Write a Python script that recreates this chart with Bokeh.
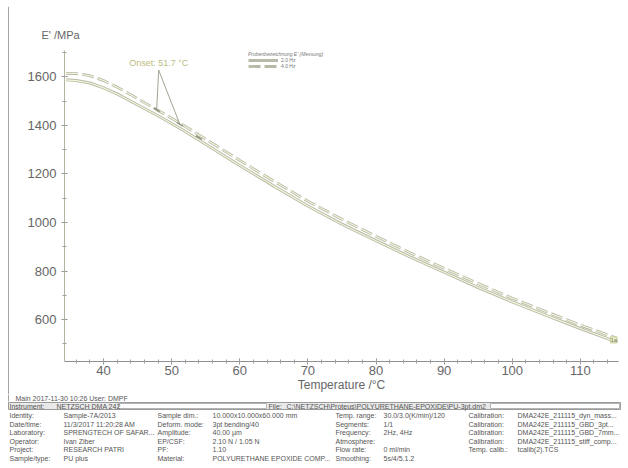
from bokeh.plotting import figure
from bokeh.layouts import column, row
from bokeh.models import Range1d, SingleIntervalTicker, Label, Legend, LegendItem, ColumnDataSource
from bokeh.core.properties import value
from bokeh.embed import file_html
from bokeh.resources import INLINE

# ---- data ----
temp = [34.5, 36, 38, 40, 42, 44, 46, 48, 50, 52, 54, 56, 58, 60, 65, 70, 75,
        80, 85, 90, 95, 100, 105, 110, 115.3]
e_solid = [1588, 1585, 1575, 1555, 1530, 1500, 1470, 1440, 1408, 1375, 1340, 1305,
           1270, 1235, 1150, 1068, 993, 925, 858, 795, 732, 673, 617, 563, 508]
e_dashed = [1615, 1614, 1605, 1585, 1558, 1527, 1494, 1462, 1430, 1396, 1361, 1326,
            1291, 1256, 1170, 1088, 1013, 943, 875, 811, 748, 688, 632, 577, 524]

onset_text = "Onset: 51.7 °C"
onset_label_T, onset_label_E = 48.1, 1656
onset_T = [47.8, 51.2]
onset_E = [1465, 1405]
tick_T = [47.8, 51.2, 54.0]
tick_E = [1465, 1405, 1350]

y_title = "E' /MPa"
x_title = "Temperature /°C"
legend_title = "Probenbezeichnung E' (Messung)"
legend_labels = ["2.0 Hz", "4.0 Hz"]
curve_tag = "1a"

footer = "Main   2017-11-30 10:26     User: DMPF"
header_left = ["Instrument:", "NETZSCH DMA 242"]
header_file = ["File:", "C:\\NETZSCH\\Proteus\\POLYURETHANE-EPOXIDE\\PU-3pt.dm2"]
col1 = ["Identity:", "Date/time:", "Laboratory:", "Operator:", "Project:", "Sample/type:"]
col2 = ["Sample-7A/2013", "11/3/2017 11:20:28 AM", "SPRENGTECH OF SAFAR...", "Ivan Ziber",
        "RESEARCH PATRI", "PU plus"]
col3 = ["Sample dim.:", "Deform. mode:", "Amplitude:", "EP/CSF:", "PF:", "Material:"]
col4 = ["10.000x10.000x60.000 mm", "3pt bending/40", "40.00 µm", "2.10 N / 1.05 N",
        "1.10", "POLYURETHANE EPOXIDE COMP..."]
col5 = ["Temp. range:", "Segments:", "Frequency:", "Atmosphere:", "Flow rate:", "Smoothing:"]
col6 = ["30.0/3.0(K/min)/120", "1/1", "2Hz, 4Hz", "", "0 ml/min", "5s/4/5.1.2"]
col7 = ["Calibration:", "Calibration:", "Calibration:", "Calibration:", "Temp. calib.:", ""]
col8 = ["DMA242E_211115_dyn_mass...", "DMA242E_211115_GBD_3pt...",
        "DMA242E_211115_GBD_7mm...", "DMA242E_211115_stiff_comp...",
        "tcalib(2).TCS", ""]

FONT = "Liberation Sans"
GRAY = "#666666"
FRAME_GRAY = "#a4a4a4"
W = 628
H_STRIP = 6      # top strip holding the report's top border
W_STRIP = 9      # left strip holding the report's left border
H_TOP = 394      # bottom of the chart area
H_BOT = 468 - H_TOP


def blank(width, height, xr, yr):
    f = figure(width=width, height=height, output_backend="svg", toolbar_location=None,
               x_range=xr, y_range=yr, x_axis_type=None, y_axis_type=None,
               min_border_left=0, min_border_right=0, min_border_top=0, min_border_bottom=0)
    f.frame_align = False
    f.grid.visible = False
    f.outline_line_color = None
    f.border_fill_color = "white"
    f.background_fill_color = "white"
    return f


# ---------------- report border strips ----------------
top = blank(W, H_STRIP, Range1d(0, W), Range1d(H_STRIP, 0))
top.segment(x0=[8, 8], y0=[5, 5], x1=[626, 8], y1=[5, H_STRIP], line_color=FRAME_GRAY,
            line_width=1)
left = blank(W_STRIP, H_TOP - H_STRIP, Range1d(0, W_STRIP), Range1d(H_TOP, H_STRIP))
left.segment(x0=[8], y0=[H_STRIP], x1=[8], y1=[H_TOP], line_color=FRAME_GRAY, line_width=1)

# ---------------- main chart ----------------
p = figure(width=W - W_STRIP, height=H_TOP - H_STRIP, output_backend="svg",
           toolbar_location=None,
           x_range=Range1d(34.27, 115.6), y_range=Range1d(427, 1709),
           min_border_left=64 - W_STRIP, min_border_right=10, min_border_top=50 - H_STRIP,
           min_border_bottom=33)
p.frame_align = False
p.grid.visible = False
p.outline_line_color = None
p.background_fill_color = "white"
p.border_fill_color = "white"

p.title.text = y_title
p.title.align = "left"
p.title.offset = -23
p.title.standoff = 20
p.title.text_font = FONT
p.title.text_font_size = "11px"
p.title.text_font_style = "normal"
p.title.text_color = GRAY

p.xaxis.ticker = SingleIntervalTicker(interval=10, num_minor_ticks=5)
p.yaxis.ticker = SingleIntervalTicker(interval=200, num_minor_ticks=2)
for ax in (p.xaxis, p.yaxis):
    ax.major_label_text_font = FONT
    ax.major_label_text_font_size = "13px"
    ax.major_label_text_color = GRAY
    ax.major_tick_in = 3
    ax.major_tick_out = 3
    ax.minor_tick_in = 2
    ax.minor_tick_out = 2
    ax.major_tick_line_color = "#8a8a8a"
    ax.minor_tick_line_color = "#a0a0a0"
p.xaxis.axis_line_color = "#909090"
p.yaxis.axis_line_color = "#b4b49c"
p.xaxis.major_label_standoff = 1
p.yaxis.major_label_standoff = 5
p.xaxis.axis_label = x_title
p.xaxis.axis_label_text_font = FONT
p.xaxis.axis_label_text_font_size = "12px"
p.xaxis.axis_label_text_font_style = "normal"
p.xaxis.axis_label_text_color = GRAY
p.xaxis.axis_label_standoff = 0

src = ColumnDataSource(dict(t=temp, s=e_solid, d=e_dashed))
r_s = p.line("t", "s", source=src, line_color="#b8b9a8", line_width=3)
p.line("t", "s", source=src, line_color="#f4f6da", line_width=1.2)
r_d = p.line("t", "d", source=src, line_color="#b8b9a8", line_width=2.8, line_dash="12 4")
p.line("t", "d", source=src, line_color="#f4f6da", line_width=1.1, line_dash="12 4")

# onset annotation
p.segment(x0=[onset_label_T] * len(onset_T), y0=[onset_label_E - 28] * len(onset_T),
          x1=onset_T, y1=onset_E, line_color="#a4a494", line_width=1)
p.scatter(tick_T, tick_E, marker="dash", size=7, angle=-0.55, line_color="#8f907c",
          line_width=1.5)
p.add_layout(Label(x=onset_label_T, y=onset_label_E, text=onset_text, text_align="center",
                   text_baseline="middle", text_font=FONT, text_font_size="9px",
                   text_color="#bcbc7e"))
p.add_layout(Label(x=temp[-1], y=(e_solid[-1] + e_dashed[-1]) / 2, text=curve_tag,
                   x_offset=-6, text_align="left", text_baseline="middle", text_font=FONT,
                   text_font_size="6px", text_color="#777", background_fill_color="#eef2c4",
                   border_line_color="#c8cc98"))

legend = Legend(items=[LegendItem(label=legend_labels[0], renderers=[r_s]),
                       LegendItem(label=legend_labels[1], renderers=[r_d])],
                location=(184, 292), title=legend_title)
legend.title_text_font = FONT
legend.title_text_font_size = "5px"
legend.title_text_color = "#777"
legend.title_standoff = 0
legend.label_text_font = FONT
legend.label_text_font_size = "5px"
legend.label_text_color = "#777"
legend.label_height = 4
legend.label_width = 20
legend.glyph_height = 4
legend.glyph_width = 30
legend.label_standoff = 3
legend.spacing = 0
legend.padding = 0
legend.margin = 0
legend.border_line_alpha = 0
legend.background_fill_alpha = 0
p.add_layout(legend)

# ---------------- report table (pixel coordinates of the report) ----------------
t = blank(W, H_BOT, Range1d(0, W), Range1d(468, H_TOP))
t.segment(x0=[8], y0=[H_TOP], x1=[8], y1=[401], line_color=FRAME_GRAY, line_width=1)
t.quad(left=[8], right=[620], top=[402], bottom=[409], fill_color="#e9e9e9",
       line_color="#9a9a9a", line_width=1)
t.quad(left=[118, 490], right=[266, 619], top=[403, 403], bottom=[408, 408],
       fill_color="white", line_color="#b4b4b4", line_width=1)

rows_y = [415, 423.5, 432, 440.5, 449, 457.5]
xs, ys, ss = [15], [397.5], [footer]
for xpos, s in ((9, header_left[0]), (56, header_left[1]), (268, header_file[0]),
                (286, header_file[1])):
    xs.append(xpos); ys.append(405.5); ss.append(s)
for col, xpos in ((col1, 9), (col2, 63), (col3, 157), (col4, 212), (col5, 335),
                  (col6, 383), (col7, 468), (col8, 517)):
    for s, yy in zip(col, rows_y):
        if s:
            xs.append(xpos); ys.append(yy); ss.append(s)
t.text(x=xs, y=ys, text=ss, text_font=value(FONT), text_font_size="7px",
       text_color="#555555", text_baseline="middle", text_align="left")

layout = column(top, row(left, p, spacing=0), t, spacing=0)
open("out.html", "w").write(file_html(layout, INLINE))
